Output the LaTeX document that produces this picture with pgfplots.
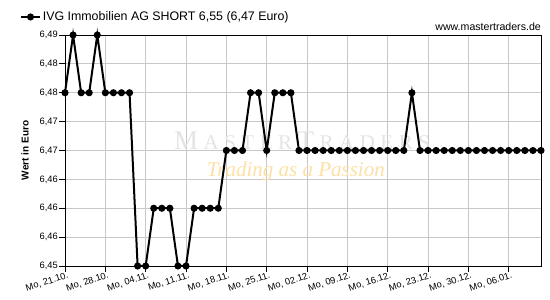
\documentclass[border=0pt]{standalone}
\usepackage{fontspec}
\setmainfont{Liberation Sans}
\newfontfamily\wmserif{Liberation Serif}
\usepackage{pgfplots}
\pgfplotsset{compat=1.18}
\definecolor{gridgray}{RGB}{200,200,200}
\definecolor{wmgray}{RGB}{228,228,228}
\definecolor{wmorange}{RGB}{253,224,165}
\newcommand{\wsp}{\hspace{5.5pt}}
\pgfplotstableread{
x y
0 6.48
1 6.49
2 6.48
3 6.48
4 6.49
5 6.48
6 6.48
7 6.48
8 6.48
9 6.45
10 6.45
11 6.46
12 6.46
13 6.46
14 6.45
15 6.45
16 6.46
17 6.46
18 6.46
19 6.46
20 6.47
21 6.47
22 6.47
23 6.48
24 6.48
25 6.47
26 6.48
27 6.48
28 6.48
29 6.47
30 6.47
31 6.47
32 6.47
33 6.47
34 6.47
35 6.47
36 6.47
37 6.47
38 6.47
39 6.47
40 6.47
41 6.47
42 6.47
43 6.48
44 6.47
45 6.47
46 6.47
47 6.47
48 6.47
49 6.47
50 6.47
51 6.47
52 6.47
53 6.47
54 6.47
55 6.47
56 6.47
57 6.47
58 6.47
59 6.47
}\datatable
\begin{document}
\begin{tikzpicture}
\useasboundingbox (-65pt,-34pt) rectangle (485pt,266pt);
\begin{axis}[
  at={(0pt,0pt)}, anchor=south west,
  scale only axis,
  width=476pt, height=231pt,
  xmin=0, xmax=59,
  ymin=6.45, ymax=6.49,
  xtick={0,5,...,55},
  xticklabels={{Mo, 21.10.},{Mo, 28.10.},{Mo, 04.11.},{Mo, 11.11.},{Mo, 18.11.},{Mo, 25.11.},{Mo, 02.12.},{Mo, 09.12.},{Mo, 16.12.},{Mo, 23.12.},{Mo, 30.12.},{Mo, 06.01.}},
  ytick={6.45,6.455,6.46,6.465,6.47,6.475,6.48,6.485,6.49},
  yticklabels={{6,45},{6,46},{6,46},{6,46},{6,47},{6,47},{6,48},{6,48},{6,49}},
  grid=major,
  major grid style={gridgray, line width=0.8pt},
  axis line style={black, line width=0.8pt},
  tick align=outside,
  major tick length=6pt,
  tick style={black, line width=0.8pt},
  xtick pos=bottom, ytick pos=left,
  ticklabel style={font=\fontsize{9.3}{10}\selectfont},
  xticklabel style={rotate=18, anchor=north east, inner sep=1pt, xshift=3pt, yshift=1pt},
  yticklabel style={inner sep=1pt},
  ylabel={\bfseries Wert in Euro},
  ylabel style={font=\fontsize{10}{11}\selectfont, at={(axis description cs:-0.084,0.5)}, anchor=center},
  legend style={at={(axis description cs:-0.0945,1.078)}, anchor=west, draw=none, fill=none,
    font=\fontsize{12.4}{13}\selectfont, inner xsep=0pt, inner ysep=0pt},
  legend image code/.code={
    \draw[line width=1.6pt] (0pt,0pt) -- (19pt,0pt);
    \draw[fill=black] (9.5pt,0pt) circle (2.5pt);
  },
  clip=false,
]
\node[font=\wmserif\fontsize{27}{27}\selectfont, text=wmgray] at (axis description cs:0.498,0.541)
  {M\wsp{\fontsize{21}{21}\selectfont A\wsp S\wsp T\wsp E\wsp R}\wsp T\wsp{\fontsize{21}{21}\selectfont R\wsp A\wsp D\wsp E\wsp R\wsp S}};
\node[font=\wmserif\itshape\fontsize{21}{21}\selectfont, text=wmorange] at (axis description cs:0.485,0.41)
  {Trading as a Passion};
\addplot[black, line width=2pt, mark=*, mark size=2.5pt] table[x=x,y=y] {\datatable};
\addlegendentry{IVG Immobilien AG SHORT 6,55 (6,47 Euro)}
\node[anchor=east, font=\fontsize{10.6}{11}\selectfont, inner sep=0pt] at (axis description cs:1,1.0346) {www.mastertraders.de};
\end{axis}
\end{tikzpicture}
\end{document}
